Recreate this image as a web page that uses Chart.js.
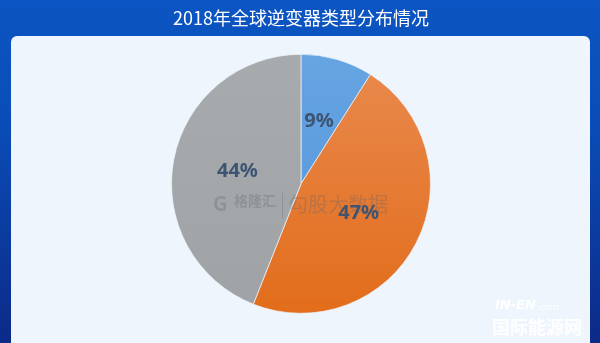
<!DOCTYPE html>
<html>
<head>
<meta charset="utf-8">
<script src="https://cdn.jsdelivr.net/npm/chart.js@4.4.0/dist/chart.umd.min.js"></script>
<style>
  html, body { margin: 0; padding: 0; background: #0a4fb9; }
  #wrap { width: 600px; height: 343px; position: relative; }
</style>
</head>
<body>
<div id="wrap"><canvas id="pie"></canvas></div>
<script>
const titleText = "2018年全球逆变器类型分布情况";
const categories = ["类型A", "类型B", "类型C"];
const shares = [9, 47, 44];
const sliceColors = [["#66a4e2", "#5496d9"], ["#e98a4f", "#e26d1b"], ["#a7abae", "#9fa3a6"]];

// background, panel, watermark and logo
const backdrop = {
  id: "backdrop",
  beforeDraw(chart) {
    const ctx = chart.ctx;
    ctx.save();
    let g = ctx.createLinearGradient(0, 0, 0, 343);
    g.addColorStop(0, "#0b55c2");
    g.addColorStop(0.35, "#0a4db8");
    g.addColorStop(1, "#0c2a88");
    ctx.fillStyle = g;
    ctx.fillRect(0, 0, 600, 343);
    ctx.fillStyle = "#eef5fd";
    ctx.beginPath();
    ctx.roundRect(11, 36, 579, 320, 6);
    ctx.fill();
    ctx.restore();
  },
  afterDatasetsDraw(chart) {
    const ctx = chart.ctx;
    ctx.save();
    ctx.fillStyle = "rgba(95,100,110,0.3)";
    ctx.strokeStyle = "rgba(95,100,110,0.3)";
    ctx.textBaseline = "middle";
    ctx.font = "bold 20px 'Noto Sans CJK SC'";
    ctx.fillText("G", 213, 203);
    ctx.font = "bold 14px 'Noto Sans CJK SC'";
    ctx.fillText("格隆汇", 234, 201);
    ctx.lineWidth = 1;
    ctx.beginPath();
    ctx.moveTo(282.5, 193);
    ctx.lineTo(282.5, 218);
    ctx.stroke();
    ctx.font = "20px 'Noto Sans CJK SC'";
    ctx.fillText("勾股大数据", 288, 204);

    ctx.fillStyle = "rgba(255,255,255,0.95)";
    ctx.font = "italic bold 13px 'DejaVu Sans'";
    ctx.fillText("IN-EN", 495, 306);
    ctx.font = "italic 9px 'DejaVu Sans'";
    ctx.fillText(".com", 537, 308);
    ctx.font = "bold 18px 'Noto Sans CJK SC'";
    ctx.fillText("国际能源网", 492, 327);
    ctx.restore();
  }
};

// percentage labels at the middle of each slice
const sliceLabels = {
  id: "sliceLabels",
  afterDraw(chart) {
    const ctx = chart.ctx;
    const meta = chart.getDatasetMeta(0);
    ctx.save();
    ctx.fillStyle = "#3d5472";
    ctx.font = "bold 20px 'Noto Sans'";
    ctx.textAlign = "center";
    ctx.textBaseline = "middle";
    meta.data.forEach((arc, i) => {
      const p = arc.tooltipPosition();
      ctx.fillText(shares[i] + "%", p.x, p.y);
    });
    ctx.restore();
  }
};

new Chart(document.getElementById("pie"), {
  type: "pie",
  data: {
    labels: categories,
    datasets: [{
      data: shares,
      backgroundColor: (c) => {
        const area = c.chart.chartArea;
        if (!area) return sliceColors[c.dataIndex][0];
        const g = c.chart.ctx.createLinearGradient(0, area.top, 0, area.bottom);
        g.addColorStop(0, sliceColors[c.dataIndex][0]);
        g.addColorStop(1, sliceColors[c.dataIndex][1]);
        return g;
      },
      borderColor: "rgba(238,245,253,0.7)",
      borderWidth: 1
    }]
  },
  options: {
    responsive: true,
    maintainAspectRatio: false,
    animation: false,
    layout: { padding: { left: 171, right: 169, top: 0, bottom: 29 } },
    plugins: {
      legend: { display: false },
      tooltip: { enabled: false },
      title: {
        display: true,
        text: titleText,
        color: "#ffffff",
        font: { family: "'Noto Sans CJK SC'", size: 18, weight: "normal" },
        padding: { top: 7, bottom: 25 }
      }
    }
  },
  plugins: [backdrop, sliceLabels]
});
</script>
</body>
</html>
